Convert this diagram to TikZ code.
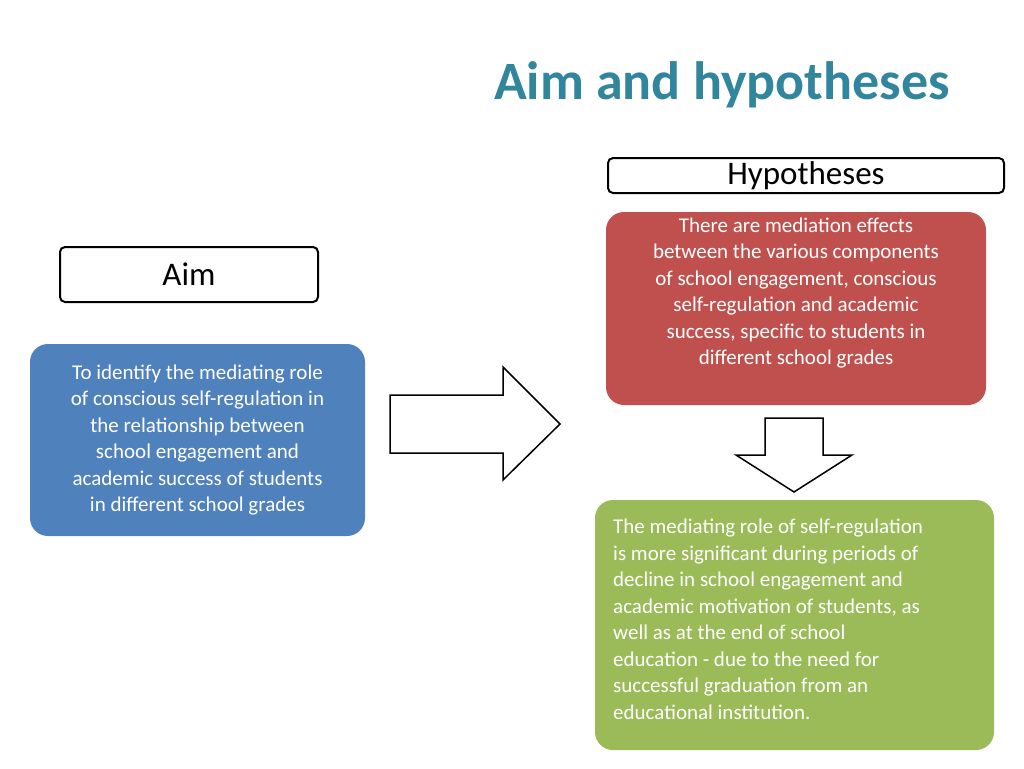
\documentclass[tikz,border=0pt]{standalone}
\usepackage{fontspec}
\setmainfont{Carlito}
\definecolor{teal1}{HTML}{31859C}
\definecolor{blue1}{HTML}{4F81BD}
\definecolor{red1}{HTML}{C0504D}
\definecolor{green1}{HTML}{9BBB59}
\begin{document}
\begin{tikzpicture}[x=1pt,y=-1pt,
  label box/.style={draw=black,line width=2pt,rounded corners=5pt,fill=white,font=\fontsize{33}{36}\selectfont,inner sep=0pt},
  content box/.style={rounded corners=18pt,text=white,font=\fontsize{21}{26.5}\selectfont,inner sep=0pt,align=center},
  big arrow/.style={draw=black,line width=1.5pt,fill=white,line join=miter}]
\useasboundingbox (0,0) rectangle (1024,768);
\node[text=teal1,font=\bfseries\fontsize{54}{60}\selectfont] (title) at (722,85) {Aim and hypotheses};
\node[label box,minimum width=396pt,minimum height=35pt] (hyp) at (806,175.5) {Hypotheses};
\node[label box,minimum width=258pt,minimum height=55pt] (aim) at (189,274.5) {Aim};
\node[content box,fill=blue1,minimum width=335pt,minimum height=192pt] (aimtext) at (197.5,440)
 {To identify the mediating role\\of conscious self-regulation in\\the relationship between\\school engagement and\\academic success of students\\in different school grades};
\node[content box,fill=red1,minimum width=380pt,minimum height=193pt] (h1) at (796,308.5)
 {There are mediation effects\\between the various components\\of school engagement, conscious\\self-regulation and academic\\success, specific to students in\\different school grades\\[8pt]};
\node[content box,fill=green1,minimum width=399pt,minimum height=250pt] (h2) at (794.5,625) {};
\node[text=white,font=\fontsize{21}{26.5}\selectfont,align=left,anchor=north west,inner sep=0pt] (h2text) at (613,519)
 {The mediating role of self-regulation\\is more significant during periods of\\decline in school engagement and\\academic motivation of students, as\\well as at the end of school\\education - due to the need for\\successful graduation from an\\educational institution.};
\draw[big arrow] (390,395) -- (503,395) -- (503,367) -- (560,424) -- (503,480) -- (503,453) -- (390,453) -- cycle;
\draw[big arrow] (765,418) -- (823,418) -- (823,455) -- (852,455) -- (794,492) -- (736,455) -- (765,455) -- cycle;
\end{tikzpicture}
\end{document}
